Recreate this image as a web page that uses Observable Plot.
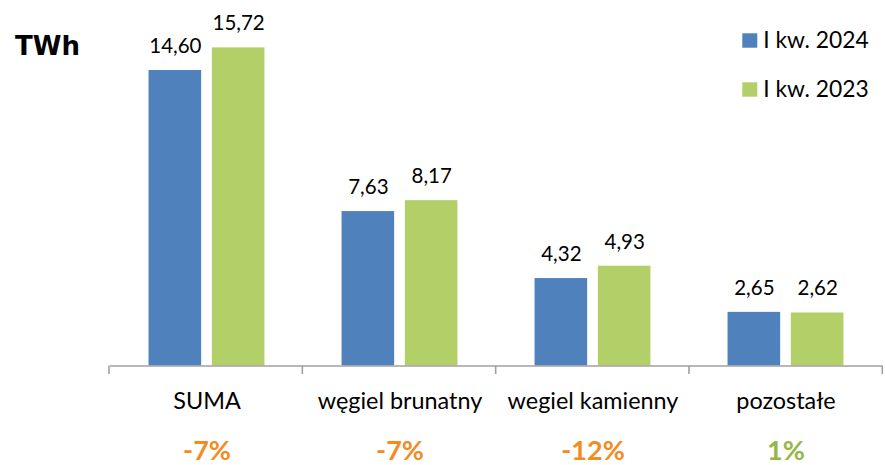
<!DOCTYPE html>
<html>
<head>
<meta charset="utf-8">
<script src="https://cdn.jsdelivr.net/npm/d3@7"></script>
<script src="https://cdn.jsdelivr.net/npm/@observablehq/plot@0.6"></script>
<style>
  html, body { margin: 0; padding: 0; background: #fff; }
  #chart { position: relative; width: 885px; height: 465px; }
  #chart svg { display: block; }
</style>
</head>
<body>
<div id="chart"></div>
<script>
const categories = ["SUMA", "węgiel brunatny", "wegiel kamienny", "pozostałe"];
const series = ["I kw. 2024", "I kw. 2023"];
const values2024 = [14.60, 7.63, 4.32, 2.65];
const values2023 = [15.72, 8.17, 4.93, 2.62];
const changes = [-7, -7, -12, 1];
const seriesColors = ["#4F81BD", "#B3CF67"];
const unitLabel = "TWh";

const data = [];
categories.forEach((c, i) => {
  data.push({cat: c, series: series[0], value: values2024[i]});
  data.push({cat: c, series: series[1], value: values2023[i]});
});
const changeData = categories.map((c, i) => ({cat: c, change: changes[i]}));
const fmt = v => v.toFixed(2).replace(".", ",");

const chart = Plot.plot({
  width: 885,
  height: 465,
  marginLeft: 109,
  marginRight: 2.7,
  marginTop: 0,
  marginBottom: 99.5,
  style: {fontFamily: "Lato", fontSize: "20.5px", color: "#000", background: "#fff"},
  fx: {domain: categories, padding: 0, label: null},
  x: {domain: series, paddingInner: 0.169, paddingOuter: 0.609, axis: null, round: false},
  y: {domain: [0, 18.06], axis: null},
  color: {domain: series, range: seriesColors},
  marks: [
    Plot.barY(data, {fx: "cat", x: "series", y: "value", fill: "series"}),
    Plot.text(data, {fx: "cat", x: "series", y: "value", text: d => fmt(d.value),
      lineAnchor: "bottom", dy: -17.5, fontSize: 20.5, fill: "#000"}),
    Plot.ruleY([0], {stroke: "#A0A0A0", strokeWidth: 1.6}),
    Plot.axisFx({anchor: "bottom", tickSize: 0, tickPadding: 26, fontSize: 23.4, label: null, fill: "#000"}),
    Plot.text(changeData, {fx: "cat", text: d => `${d.change}%`, frameAnchor: "bottom",
      lineAnchor: "bottom", dy: 93.5, fontSize: 27, fontWeight: "bold",
      fill: d => d.change < 0 ? "#F38B1F" : "#93B844"})
  ]
});

// boundary ticks along the category axis, from the chart's own fx / y scales
const fxS = chart.scale("fx");
const band = d3.scaleBand()
  .domain(fxS.domain)
  .range(fxS.range)
  .paddingInner(fxS.paddingInner ?? 0)
  .paddingOuter(fxS.paddingOuter ?? 0)
  .align(fxS.align ?? 0.5);
const yS = chart.scale("y");
const yLin = d3.scaleLinear().domain(yS.domain).range(yS.range);
const y0 = yLin(0);
const edges = fxS.domain.map(c => band(c));
edges.push(band(fxS.domain[fxS.domain.length - 1]) + band.bandwidth());

const svg = d3.select(chart);
svg.append("g")
  .selectAll("line").data(edges).join("line")
  .attr("x1", d => d).attr("x2", d => d)
  .attr("y1", y0).attr("y2", y0 + 8.5)
  .attr("stroke", "#A0A0A0").attr("stroke-width", 1.6);

// unit label
svg.append("text")
  .attr("x", 15).attr("y", 55)
  .attr("text-anchor", "start")
  .attr("font-family", "DejaVu Sans").attr("font-weight", "bold").attr("font-size", 26)
  .attr("fill", "#000")
  .text(unitLabel);

// legend
const lg = svg.append("g").selectAll("g").data(series).join("g")
  .attr("transform", (d, i) => `translate(742.3, ${33.3 + i * 49})`);
lg.append("rect").attr("width", 15).attr("height", 14.4).attr("fill", (d, i) => seriesColors[i]);
lg.append("text").attr("x", 21).attr("y", 14.6)
  .attr("text-anchor", "start")
  .attr("font-family", "Lato").attr("font-size", 22.8).attr("fill", "#000")
  .text(d => d);

document.getElementById("chart").appendChild(chart);
</script>
</body>
</html>
